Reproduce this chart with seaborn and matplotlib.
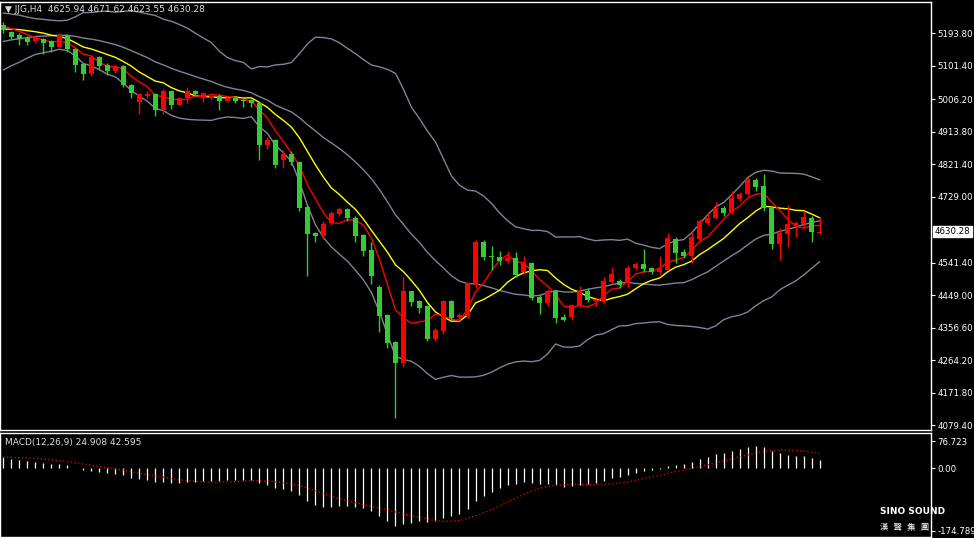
import numpy as np
import pandas as pd
import matplotlib
matplotlib.use("Agg")
import matplotlib.pyplot as plt
import seaborn as sns

# prior closes (for indicator warm-up, not drawn)
warmup = [5080,5095,5110,5105,5120,5140,5135,5150,5165,5160,5175,5190,5185,5200,5210,5205,5215,5220,5212,5222]

opens = [5219,5197,5188,5180,5171,5177,5171,5155,5188,5149,5107,5079,5127,5104,5087,5101,5048,4998,5015,5020,
         4975,5031,4989,5009,5031,5009,5009,5017,5001,5009,5003,5003,4995,4877,4891,4833,4852,4827,4701,4625,
         4617,4656,4681,4693,4670,4620,4578,4474,4393,4315,4256,4460,4432,4418,4326,4348,4432,4387,4390,4477,
         4600,4561,4558,4547,4555,4516,4541,4443,4427,4460,4387,4387,4421,4460,4432,4432,4488,4491,4483,4527,
         4539,4527,4516,4522,4609,4572,4561,4609,4656,4670,4698,4687,4723,4737,4777,4760,4698,4595,4623,4648,
         4651,4670,4625.94]
closes = [5202,5183,5177,5169,5180,5166,5155,5188,5149,5104,5079,5127,5101,5087,5101,5048,5023,5020,5020,4975,
          5031,4989,5009,5029,5020,5023,5017,5001,5009,5001,5001,4995,4877,4891,4819,4852,4827,4698,4623,4617,
          4653,4684,4693,4670,4617,4575,4505,4390,4312,4256,4460,4429,4413,4326,4351,4432,4385,4393,4483,4600,
          4558,4558,4547,4555,4508,4541,4441,4427,4460,4385,4379,4421,4460,4435,4435,4491,4511,4477,4527,4539,
          4525,4516,4525,4611,4569,4561,4614,4659,4670,4698,4684,4726,4737,4779,4757,4698,4595,4625,4651,4656,
          4673,4628,4630.28]
highs = [5225,5200,5195,5185,5185,5182,5176,5195,5192,5152,5110,5130,5130,5110,5105,5104,5050,5025,5030,5024,
         5036,5034,5012,5040,5034,5026,5022,5020,5012,5012,5006,5006,5000,4900,4893,4862,4858,4830,4706,4630,
         4660,4690,4700,4696,4674,4622,4600,4478,4396,4318,4500,4462,4435,4421,4356,4437,4436,4400,4488,4606,
         4605,4590,4575,4575,4573,4560,4544,4450,4466,4465,4395,4425,4475,4470,4440,4500,4530,4495,4535,4545,
         4580,4530,4560,4625,4614,4580,4630,4665,4685,4715,4703,4745,4742,4785,4782,4795,4703,4640,4705,4660,
         4690,4675,4671.62]
lows = [5195,5178,5160,5160,5166,5135,5140,5150,5140,5085,5060,5072,5090,5075,5080,5040,5010,4965,5010,4960,
        4965,4978,4995,4995,5015,5000,5005,4975,4998,4995,4985,4985,4835,4865,4810,4810,4820,4690,4505,4600,
        4610,4650,4675,4660,4600,4560,4480,4345,4300,4101,4245,4420,4400,4318,4320,4340,4378,4380,4385,4470,
        4550,4520,4535,4540,4500,4510,4436,4395,4420,4370,4375,4380,4415,4430,4420,4425,4480,4470,4470,4520,
        4515,4510,4510,4520,4540,4555,4540,4600,4650,4665,4675,4680,4718,4730,4745,4690,4580,4550,4585,4615,
        4640,4600,4623.55]

price_ticks = [5193.80,5101.40,5006.20,4913.80,4821.40,4729.00,4541.40,4449.00,4356.60,4264.20,4171.80,4079.40]
macd_ticks = [76.723, 0.00, -174.789]

n = len(closes)
idx = np.arange(n)
allc = pd.Series(warmup + closes, dtype=float)
w = len(warmup)
mid = allc.rolling(20, min_periods=1).mean()
sd = allc.rolling(20, min_periods=1).std(ddof=0)
df = pd.DataFrame({
    "i": idx,
    "mid": mid.values[w:], "up": (mid + 2*sd).values[w:], "lo": (mid - 2*sd).values[w:],
    "ma5": allc.rolling(5).mean().values[w:], "ma10": allc.rolling(10).mean().values[w:],
})
ema12 = allc.ewm(span=12, adjust=False).mean()
ema26 = allc.ewm(span=26, adjust=False).mean()
macd = (ema12 - ema26)
sig = macd.rolling(9, min_periods=1).mean()
df["macd"] = macd.values[w:]
df["sig"] = sig.values[w:]

sns.set_style("dark")
plt.rcParams["font.family"] = ["DejaVu Sans", "Noto Sans CJK TC"]
fig = plt.figure(figsize=(9.74, 5.38), dpi=100, facecolor="black")
ax = fig.add_axes([0.0, 1-430/538, 931/974, 428/538], facecolor="black")
ax2 = fig.add_axes([0.0, 1/538, 931/974, 104/538], facecolor="black")

grey = "#7d8594"
for col in ["up", "mid", "lo"]:
    sns.lineplot(data=df, x="i", y=col, ax=ax, color=grey, lw=1)
sns.lineplot(data=df, x="i", y="ma10", ax=ax, color="#ffff00", lw=1)
sns.lineplot(data=df, x="i", y="ma5", ax=ax, color="#ff0000", lw=1)

o = np.array(opens); c = np.array(closes)
cols = np.where(c >= o, "#ff0000", "#32cd32")
ax.vlines(idx, lows, highs, colors=cols, lw=1, zorder=3)
ax.bar(idx, np.maximum(np.abs(c-o), 1.5), bottom=np.minimum(o, c), width=0.6, color=cols,
       edgecolor=cols, linewidth=0, zorder=4)

ax.set_xlim(-0.4, 115.9)
ax.set_ylim(4066, 5283)
ax2.set_xlim(-0.4, 115.9)
ax2.set_ylim(-193, 100)

for a in (ax, ax2):
    a.grid(False)
    a.set_xlabel(""); a.set_ylabel("")
    a.set_xticks([])
    a.yaxis.tick_right()
    a.tick_params(axis="y", colors="white", labelsize=6.2, length=3, pad=1.5)
    for s in a.spines.values():
        s.set_color("white"); s.set_linewidth(1)
ax.set_yticks(price_ticks)
ax.set_yticklabels([f"{v:.2f}" for v in price_ticks])
ax2.set_yticks(macd_ticks)
ax2.set_yticklabels(["76.723", "0.00", "-174.789"])

ax.text(1.004, closes[-1], f"{closes[-1]:.2f}", transform=ax.get_yaxis_transform(),
        fontsize=6.2, color="black", va="center", ha="left",
        bbox=dict(boxstyle="square,pad=0.15", fc="white", ec="white"), clip_on=False)

ax.text(0.005, 0.993, "▼ JJG,H4  4625.94 4671.62 4623.55 4630.28", transform=ax.transAxes,
        color="#dddddd", fontsize=6.5, va="top", ha="left")

ax2.vlines(idx, 0, df["macd"], colors="white", lw=0.9)
ax2.plot(idx, df["sig"], color="#ff0000", lw=0.9, ls=(0, (1, 2)))
ax2.text(0.005, 0.95, "MACD(12,26,9) 24.908 42.595", transform=ax2.transAxes,
         color="#dddddd", fontsize=6.5, va="top")

fig.text(0.903, 0.045, "SINO SOUND", color="white", fontsize=6.5, fontweight="bold", ha="left")
fig.text(0.903, 0.015, "漢  聲  集  團", color="white", fontsize=6, ha="left")

fig.savefig("out.png", dpi=100, facecolor="black")
